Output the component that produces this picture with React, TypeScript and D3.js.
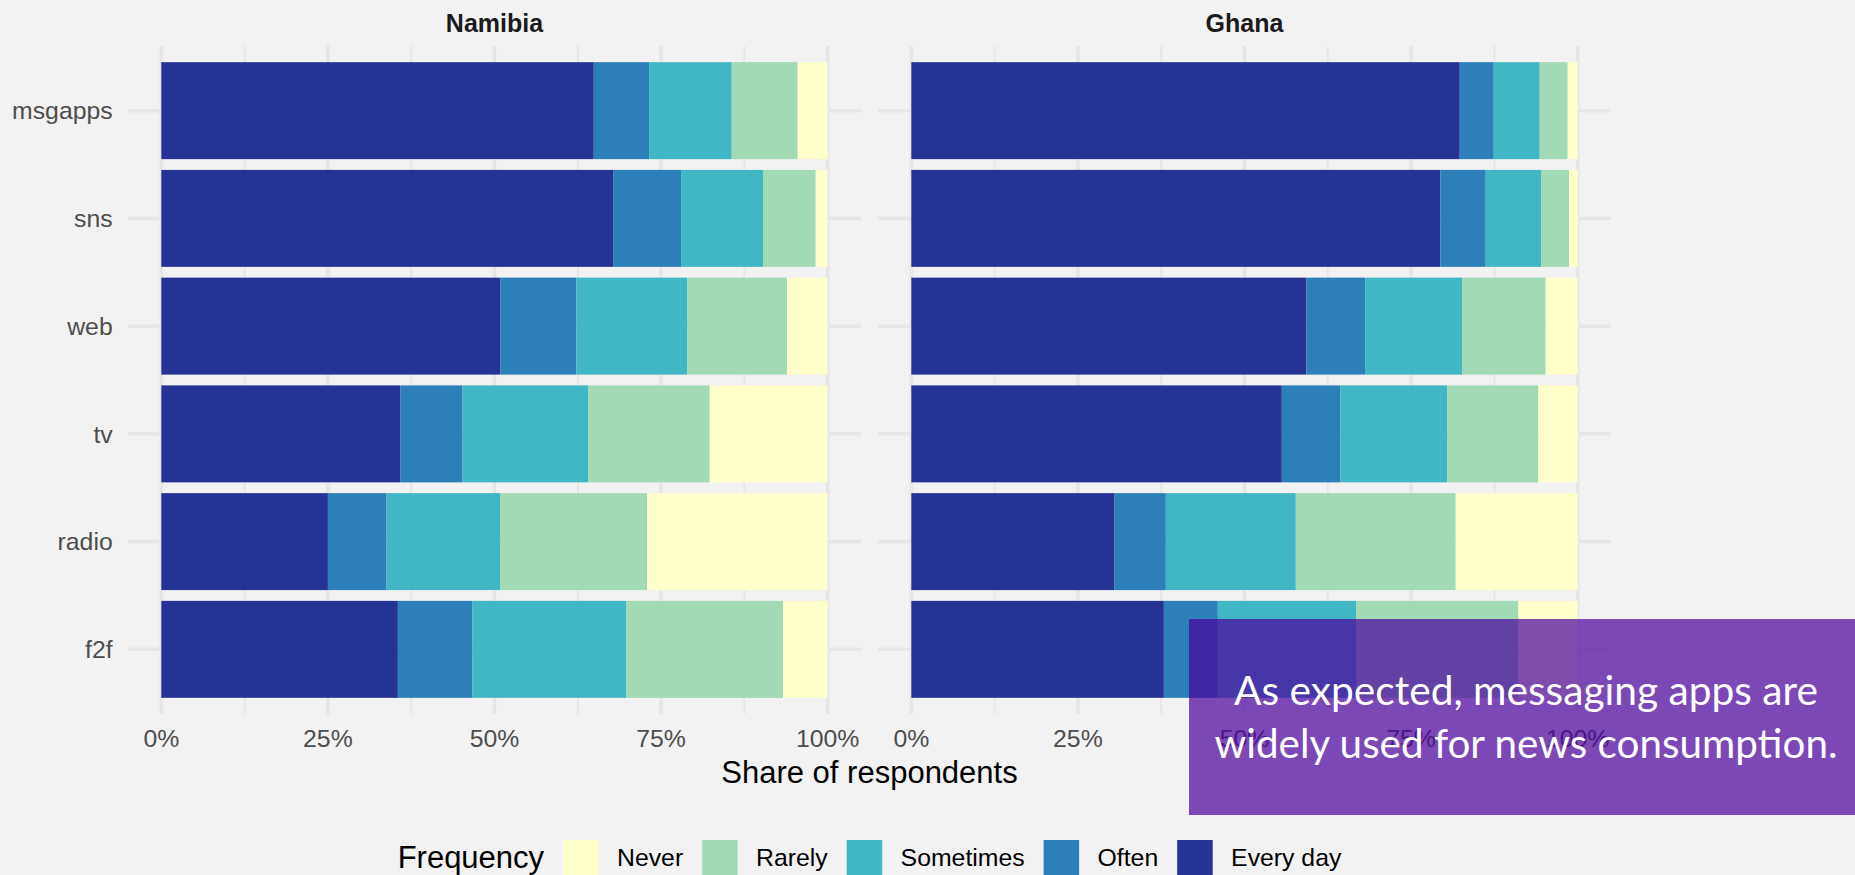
import React, { useEffect, useRef } from "react";
import * as d3 from "d3";

const W = 1855;
const H = 875;

const media = ["msgapps", "sns", "web", "tv", "radio", "f2f"];
const levels = ["Every day", "Often", "Sometimes", "Rarely", "Never"];
const legendOrder = ["Never", "Rarely", "Sometimes", "Often", "Every day"];
const levelColors = ["#253494", "#2C7FB8", "#41B6C4", "#A1DAB4", "#FFFFCC"];
const countries = ["Namibia", "Ghana"];

const namibiaEveryDay = [64.9, 67.8, 50.9, 35.9, 25.0, 35.5];
const namibiaOften = [8.3, 10.2, 11.4, 9.3, 8.8, 11.2];
const namibiaSometimes = [12.4, 12.3, 16.6, 18.9, 17.1, 23.1];
const namibiaRarely = [9.9, 7.9, 15.0, 18.2, 22.0, 23.5];
const namibiaNever = [4.5, 1.8, 6.1, 17.7, 27.1, 6.7];

const ghanaEveryDay = [82.3, 79.4, 59.3, 55.6, 30.5, 37.9];
const ghanaOften = [5.1, 6.8, 8.8, 8.8, 7.7, 8.1];
const ghanaSometimes = [6.9, 8.3, 14.6, 16.0, 19.5, 20.8];
const ghanaRarely = [4.2, 4.2, 12.5, 13.7, 24.0, 24.3];
const ghanaNever = [1.5, 1.3, 4.8, 5.9, 18.3, 8.9];

const xTicks = [0, 0.25, 0.5, 0.75, 1];
const xMinorTicks = [0.125, 0.375, 0.625, 0.875];
const xTickLabels = ["0%", "25%", "50%", "75%", "100%"];

const axisTitle = "Share of respondents";
const legendTitle = "Frequency";
const noteLines = ["As expected, messaging apps are", "widely used for news consumption."];

const countryData = [
  [namibiaEveryDay, namibiaOften, namibiaSometimes, namibiaRarely, namibiaNever],
  [ghanaEveryDay, ghanaOften, ghanaSometimes, ghanaRarely, ghanaNever],
];

const FONT = "'Liberation Sans', Arial, Helvetica, sans-serif";

export default function App() {
  const ref = useRef<SVGSVGElement | null>(null);

  useEffect(() => {
    const svg = d3.select(ref.current);
    svg.selectAll("*").remove();

    svg.append("rect").attr("x", 0).attr("y", 0).attr("width", W).attr("height", H).attr("fill", "#F2F2F2");

    const panelW = 733;
    const panelLefts = [128, 878];
    const panelTop = 46;
    const panelBottom = 714;
    const color = d3.scaleOrdinal<string, string>().domain(levels).range(levelColors);

    countries.forEach((country, ci) => {
      const left = panelLefts[ci];
      const x = d3.scaleLinear().domain([-0.05, 1.05]).range([left, left + panelW]);
      const y = d3
        .scaleBand<string>()
        .domain(media)
        .range([panelTop, panelBottom])
        .paddingInner(0.1)
        .paddingOuter(0.15);

      const g = svg.append("g");
      // grid
      g.selectAll("line.minor")
        .data(xMinorTicks)
        .join("line")
        .attr("x1", (d) => x(d))
        .attr("x2", (d) => x(d))
        .attr("y1", panelTop)
        .attr("y2", panelBottom)
        .attr("stroke", "#E6E6E6")
        .attr("stroke-width", 1.8);
      g.selectAll("line.major")
        .data(xTicks)
        .join("line")
        .attr("x1", (d) => x(d))
        .attr("x2", (d) => x(d))
        .attr("y1", panelTop)
        .attr("y2", panelBottom)
        .attr("stroke", "#E6E6E6")
        .attr("stroke-width", 3.5);
      g.selectAll("line.hmajor")
        .data(media)
        .join("line")
        .attr("x1", left)
        .attr("x2", left + panelW)
        .attr("y1", (d) => (y(d) as number) + y.bandwidth() / 2)
        .attr("y2", (d) => (y(d) as number) + y.bandwidth() / 2)
        .attr("stroke", "#E6E6E6")
        .attr("stroke-width", 3.5);

      const rows = media.map((m, i) => {
        const r: any = { media: m };
        levels.forEach((lv, li) => {
          r[lv] = countryData[ci][li][i];
        });
        return r;
      });
      const stacked = d3.stack<any>().keys(levels).offset(d3.stackOffsetExpand)(rows);

      g.selectAll("g.series")
        .data(stacked)
        .join("g")
        .attr("fill", (s) => color(s.key))
        .selectAll("rect")
        .data((s) => s)
        .join("rect")
        .attr("x", (d) => x(d[0]))
        .attr("width", (d) => x(d[1]) - x(d[0]))
        .attr("y", (d) => y(d.data.media) as number)
        .attr("height", y.bandwidth());

      // strip title
      g.append("text")
        .attr("x", left + panelW / 2)
        .attr("y", 31.5)
        .attr("text-anchor", "middle")
        .attr("font-family", FONT)
        .attr("font-weight", "bold")
        .attr("font-size", 25)
        .attr("fill", "#1A1A1A")
        .text(country);

      // x tick labels
      g.selectAll("text.tick")
        .data(xTicks)
        .join("text")
        .attr("x", (d) => x(d))
        .attr("y", 747)
        .attr("text-anchor", "middle")
        .attr("font-family", FONT)
        .attr("font-size", 24.8)
        .attr("fill", "#4D4D4D")
        .text((d, i) => xTickLabels[i]);

      if (ci === 0) {
        g.selectAll("text.ylab")
          .data(media)
          .join("text")
          .attr("x", left - 15.3)
          .attr("y", (d) => (y(d) as number) + y.bandwidth() / 2 + 8.8)
          .attr("text-anchor", "end")
          .attr("font-family", FONT)
          .attr("font-size", 24.8)
          .attr("fill", "#4D4D4D")
          .text((d) => d);
      }
    });

    const plotCenter = (panelLefts[0] + panelLefts[1] + panelW) / 2;
    svg
      .append("text")
      .attr("x", plotCenter)
      .attr("y", 783)
      .attr("text-anchor", "middle")
      .attr("font-family", FONT)
      .attr("font-size", 31)
      .attr("fill", "#000")
      .text(axisTitle);

    // legend
    const lg = svg.append("g");
    const keySize = 35.5;
    const keyTop = 840;
    const keyMid = keyTop + keySize / 2;
    const titleEl = lg
      .append("text")
      .attr("y", keyMid + 10.5)
      .attr("font-family", FONT)
      .attr("font-size", 31)
      .attr("fill", "#000")
      .text(legendTitle);
    const titleW = (titleEl.node() as SVGTextElement).getComputedTextLength();
    const labelEls = legendOrder.map((lv) =>
      lg
        .append("text")
        .attr("y", keyMid + 8.6)
        .attr("font-family", FONT)
        .attr("font-size", 24.8)
        .attr("fill", "#000")
        .text(lv)
    );
    const labelWs = labelEls.map((e) => (e.node() as SVGTextElement).getComputedTextLength());
    const gapTitle = 19;
    const gapKeyLabel = 18.4;
    const gapItem = 19;
    const total =
      titleW +
      d3.sum(labelWs.map((w) => gapTitle * 0 + keySize + gapKeyLabel + w)) +
      gapTitle +
      gapItem * (legendOrder.length - 1);
    let cx = plotCenter - total / 2;
    titleEl.attr("x", cx);
    cx += titleW + gapTitle;
    legendOrder.forEach((lv, i) => {
      lg.insert("rect", "text")
        .attr("x", cx)
        .attr("y", keyTop)
        .attr("width", keySize)
        .attr("height", keySize)
        .attr("fill", color(lv));
      cx += keySize + gapKeyLabel;
      labelEls[i].attr("x", cx);
      cx += labelWs[i] + gapItem;
    });

    // annotation
    const ann = svg.append("g");
    ann
      .append("rect")
      .attr("x", 1189)
      .attr("y", 619)
      .attr("width", W - 1189)
      .attr("height", 196)
      .attr("fill", "rgb(73,0,156)")
      .attr("fill-opacity", 0.7);
    const lineWidths = [584, 623];
    noteLines.forEach((t, i) => {
      ann
        .append("text")
        .attr("x", 1526)
        .attr("y", 705 + i * 53.3)
        .attr("text-anchor", "middle")
        .attr("font-family", "Lato, 'Open Sans', sans-serif")
        .attr("font-size", 40)
        .attr("fill", "#FFFFFF")
        .attr("textLength", lineWidths[i])
        .attr("lengthAdjust", "spacingAndGlyphs")
        .text(t);
    });
  }, []);

  return (
    <svg
      ref={ref}
      width={W}
      height={H}
      style={{ position: "fixed", left: 0, top: 0, display: "block" }}
    />
  );
}
